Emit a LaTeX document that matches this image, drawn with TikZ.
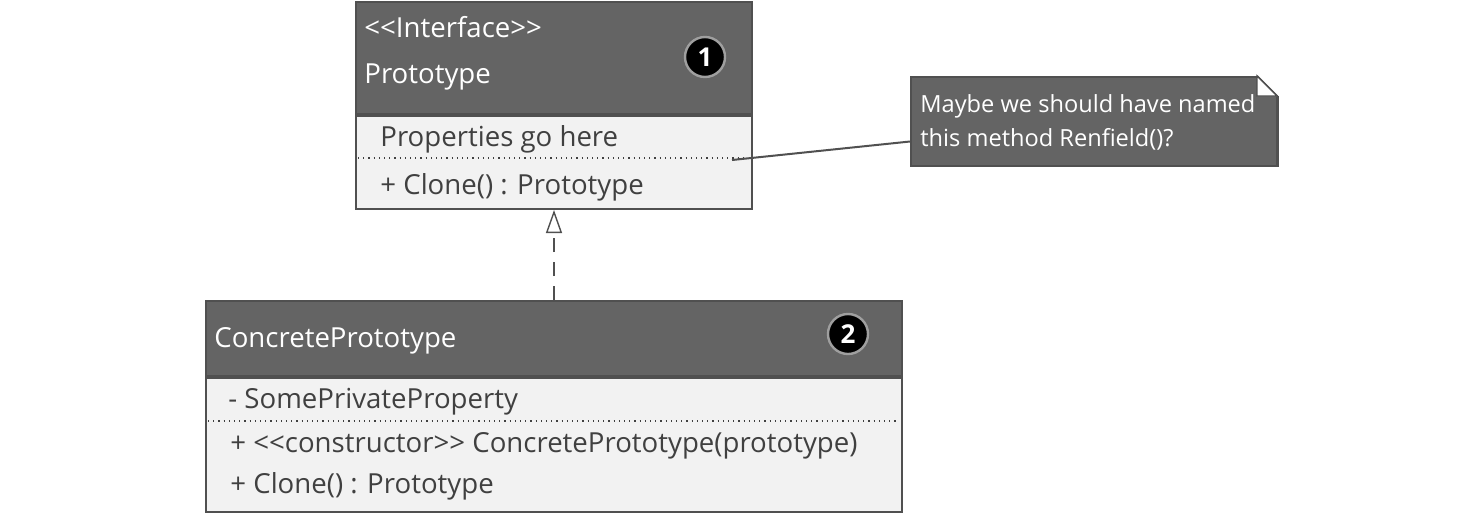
\documentclass[tikz,border=0pt]{standalone}
\usepackage{fontspec}
\setmainfont{Open Sans}
\usetikzlibrary{arrows.meta,positioning}
\definecolor{headgray}{HTML}{646464}
\definecolor{bodygray}{HTML}{F2F2F2}
\definecolor{boxline}{HTML}{505050}
\definecolor{membergray}{HTML}{404040}

\begin{document}
\begin{tikzpicture}[x=0.5pt,y=-0.5pt,line join=miter,
  classhead/.style={draw=boxline,fill=headgray,line width=1pt,inner sep=0pt,anchor=north west},
  classbody/.style={draw=boxline,fill=bodygray,line width=1pt,inner sep=0pt,anchor=north west},
  headtext/.style={text=white,anchor=base west,inner sep=0pt,font=\fontsize{13.8}{16}\selectfont},
  membertext/.style={text=membergray,anchor=base west,inner sep=0pt,font=\fontsize{13.8}{16}\selectfont},
  notetext/.style={text=white,anchor=base west,inner sep=0pt,font=\fontsize{11.8}{14}\selectfont},
  badge/.style={circle,fill=black,draw=gray!75,line width=1.2pt,text=white,minimum size=20pt,
    inner sep=0pt,font=\bfseries\fontsize{13}{14}\selectfont},
  separator/.style={dotted,line width=0.6pt,draw=membergray},
  realize/.style={dash pattern=on 7pt off 5pt,line width=0.8pt,draw=boxline,
    -{Triangle[open,length=11.5pt,width=8pt,line width=0.7pt]}}]
  \useasboundingbox (0,0) rectangle (1477,515);

  \node[classhead,minimum width=198pt,minimum height=56pt] (ifacehead) at (355,1) {};
  \node[classbody,minimum width=198pt,minimum height=46.5pt] (ifacebody) at (ifacehead.south west) {};
  \node[headtext] (ifacestereo) at (364,37) {<{}<Interface>{}>};
  \node[headtext] (ifacename) at (364,83) {Prototype};
  \node[badge] (badgeone) at (705,57) {1};
  \node[membertext] (ifaceprops) at (380,146) {Properties go here};
  \draw[separator] (358,158) -- (748,158);
  \node[membertext] (ifaceclone) at (380,194) {+ Clone() : Prototype};

  \node[classhead,minimum width=348pt,minimum height=37.5pt] (implhead) at (205,300) {};
  \node[classbody,minimum width=348pt,minimum height=67pt] (implbody) at (implhead.south west) {};
  \node[headtext] (implname) at (214,347) {ConcretePrototype};
  \node[badge] (badgetwo) at (848,334) {2};
  \node[membertext] (implprop) at (228,408) {- SomePrivateProperty};
  \draw[separator] (208,421) -- (898,421);
  \node[membertext] (implctor) at (230,452) {+ <{}<constructor>{}> ConcretePrototype(prototype)};
  \node[membertext] (implclone) at (230,493) {+ Clone() : Prototype};

  \draw[realize] (implhead.north) -- (ifacebody.south);

  \node[classhead,minimum width=183.5pt,minimum height=44.5pt] (note) at (910,76) {};
  \fill[white] (1257,75) rectangle (1279,96);
  \draw[boxline,line width=1pt,fill=headgray] (1257,76) -- (1277,96) -- (1277,165);
  \draw[boxline,line width=0.7pt,fill=white] (1257,76) -- (1257,96) -- (1277,96) -- cycle;
  \node[notetext] (noteone) at (920,112) {Maybe we should have named};
  \node[notetext] (notetwo) at (920,146) {this method Renfield()?};
  \coordinate (notepin) at (732,160);
  \draw[boxline,line width=1pt] (notepin) -- ([yshift=-10pt]note.west);
\end{tikzpicture}
\end{document}
